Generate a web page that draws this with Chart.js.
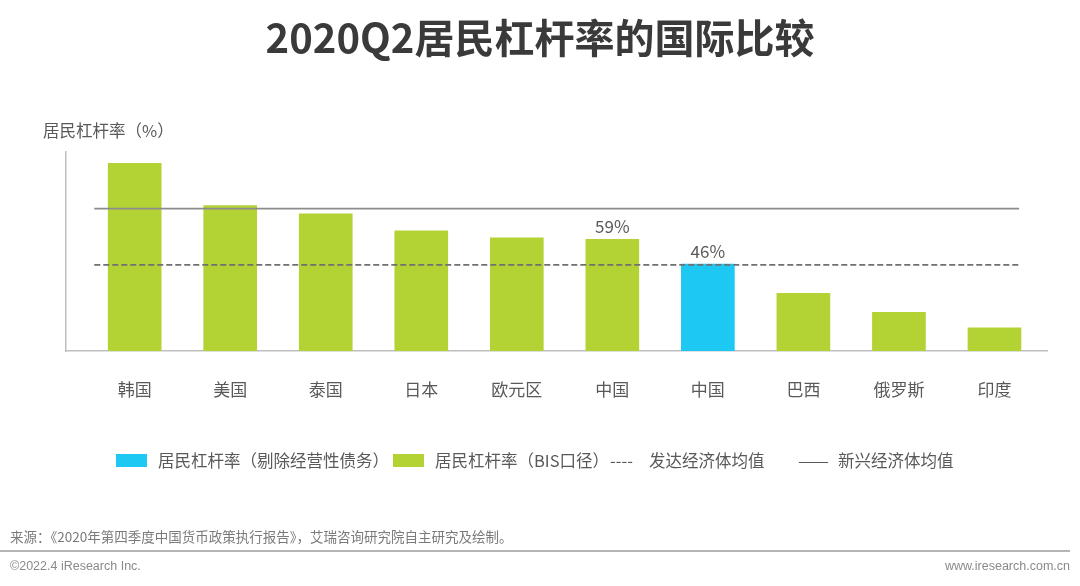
<!DOCTYPE html>
<html><head><meta charset="utf-8">
<script src="https://cdn.jsdelivr.net/npm/chart.js@4.4.0/dist/chart.umd.min.js"></script>
<style>
body{margin:0;width:1080px;height:586px;overflow:hidden;background:#fff;font-family:"Noto Sans CJK SC","Noto Sans",sans-serif;}
#wrap{position:absolute;left:0;top:0;width:1080px;height:586px;}
.t{position:absolute;white-space:nowrap;line-height:1;}
.box{position:absolute;width:31px;height:13px;}
</style></head><body>
<div id="wrap"><canvas id="c" width="1080" height="586"></canvas></div>
<div class="t" style="left:0;width:1080px;text-align:center;top:16px;font-size:40px;font-weight:bold;color:#3a3a3a;">2020Q2居民杠杆率的国际比较</div>
<div class="t" style="left:43px;top:122px;font-size:16.5px;color:#595959;">居民杠杆率（%）</div>

<div class="box" style="left:116px;top:454px;background:#1DC8F2;"></div>
<div class="t" style="left:158px;top:452px;font-size:16.5px;color:#595959;">居民杠杆率（剔除经营性债务）</div>
<div class="box" style="left:393px;top:454px;background:#B3D234;"></div>
<div class="t" style="left:435px;top:452px;font-size:16.5px;color:#595959;">居民杠杆率（BIS口径）</div>
<div class="t" style="left:610px;top:452px;font-size:16.5px;color:#595959;">----</div>
<div class="t" style="left:649px;top:452px;font-size:16.5px;color:#595959;">发达经济体均值</div>
<div class="t" style="left:798px;top:452px;font-size:16.5px;color:#595959;transform:scaleX(1.12);transform-origin:left;">——</div>
<div class="t" style="left:838px;top:452px;font-size:16.5px;color:#595959;">新兴经济体均值</div>

<div class="t" style="left:10px;top:530px;font-size:13.5px;color:#7a7a7a;">来源：《2020年第四季度中国货币政策执行报告》，艾瑞咨询研究院自主研究及绘制。</div>
<div style="position:absolute;left:0;top:550px;width:1070px;height:1.5px;background:#b5b5b5;"></div>
<div class="t" style="left:10px;top:560px;font-size:12.5px;color:#8a8a8a;font-family:'Liberation Sans',Arial,sans-serif;">©2022.4 iResearch Inc.</div>
<div class="t" style="right:10px;top:560px;font-size:12.5px;color:#8a8a8a;font-family:'Liberation Sans',Arial,sans-serif;">www.iresearch.com.cn</div>

<script>
const categories = ['韩国','美国','泰国','日本','欧元区','中国','中国','巴西','俄罗斯','印度'];
const bisValues = [99.2, 76.9, 72.5, 63.6, 59.8, 59, null, 30.5, 20.5, 12.2];
const exclOpValues = [null, null, null, null, null, null, 46, null, null, null];
const valueLabels = ['', '', '', '', '', '59%', '46%', '', '', ''];
const solidAvgLine = 75.3;
const dashedAvgLine = 45.5;

const lineFrom = -0.423, lineTo = 9.258;
const toPoints = arr => arr.map((v, i) => v == null ? null : {x: i, y: v}).filter(p => p);

const labelPlugin = {
  id: 'valueLabels',
  afterDatasetsDraw(chart) {
    const ctx = chart.ctx;
    ctx.save();
    ctx.font = '17px "Noto Sans CJK SC", sans-serif';
    ctx.fillStyle = '#595959';
    ctx.textAlign = 'center';
    ctx.textBaseline = 'bottom';
    [0, 1].forEach(di => {
      const meta = chart.getDatasetMeta(di);
      const ds = chart.data.datasets[di];
      meta.data.forEach((el, j) => {
        const idx = ds.data[j].x;
        const txt = valueLabels[idx];
        if (txt) ctx.fillText(txt, el.x, el.y - 4);
      });
    });
    ctx.restore();
  }
};

new Chart(document.getElementById('c'), {
  data: {
    datasets: [
      { type: 'bar', label: '居民杠杆率（BIS口径）', data: toPoints(bisValues), backgroundColor: '#B3D234', barThickness: 53, grouped: false, order: 2 },
      { type: 'bar', label: '居民杠杆率（剔除经营性债务）', data: toPoints(exclOpValues), backgroundColor: '#1DC8F2', barThickness: 53, grouped: false, order: 2 },
      { type: 'line', label: 'solid', data: [{x: lineFrom, y: solidAvgLine}, {x: lineTo, y: solidAvgLine}], borderColor: '#8c8c8c', borderWidth: 1.8, pointRadius: 0, order: 1 },
      { type: 'line', label: 'dashed', data: [{x: lineFrom, y: dashedAvgLine}, {x: lineTo, y: dashedAvgLine}], borderColor: '#707070', borderWidth: 1.8, borderDash: [6, 3], pointRadius: 0, order: 1 }
    ]
  },
  options: {
    responsive: false,
    animation: false,
    devicePixelRatio: 1,
    layout: { padding: { left: 66, right: 33, top: 151.7, bottom: 0 } },
    plugins: { legend: { display: false }, tooltip: { enabled: false } },
    scales: {
      x: {
        type: 'linear', min: -0.719, max: 9.55, offset: false,
        afterBuildTicks: s => { s.ticks = categories.map((_, i) => ({ value: i })); },
        afterFit: s => { s.height = 235; },
        grid: { display: false, drawTicks: false, offset: false },
        border: { display: true, color: '#bfbfbf', width: 1.5 },
        ticks: { autoSkip: false, maxRotation: 0, padding: 28, color: '#595959',
          font: { size: 17, family: '"Noto Sans CJK SC", sans-serif' },
          callback: v => categories[v] }
      },
      y: {
        min: 0, max: 105.4,
        afterFit: s => { s.width = 0; },
        grid: { display: false, drawTicks: false },
        border: { display: true, color: '#bfbfbf', width: 1.5 },
        ticks: { display: false }
      }
    }
  },
  plugins: [labelPlugin]
});
</script>
</body></html>
